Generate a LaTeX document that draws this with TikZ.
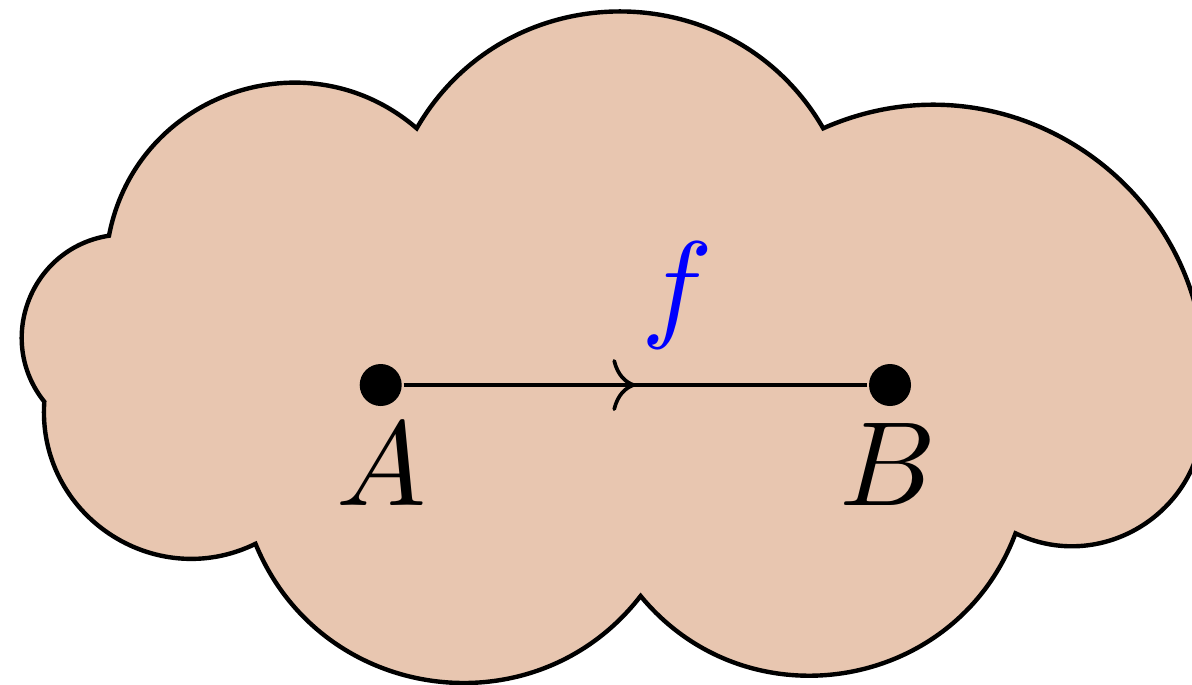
\documentclass[tikz,border=0pt]{standalone}
\usetikzlibrary{arrows.meta,decorations.markings}
\definecolor{cloudfill}{RGB}{232,198,176}
\definecolor{labelblue}{RGB}{0,0,255}
\begin{document}
\begin{tikzpicture}[x=0.1pt,y=0.1pt,
  puff/.style={bend left=60, looseness=1.135},
  cloudline/.style={draw=black, line width=0.44pt, fill=cloudfill, line join=miter},
  dot/.style={circle, fill=black, inner sep=0pt, minimum size=4.2pt},
  lbl/.style={scale=1.2, inner sep=0pt, anchor=base},
  conn/.style={line width=0.37pt,
    decoration={markings, mark=at position 0.5 with {\arrow{Computer Modern Rightarrow[length=2.3pt,width=5.2pt]}}},
    postaction={decorate}}]
\useasboundingbox (0,0) rectangle (1192,684);
% cloud cusps
\coordinate (c1) at (416.7,555.7);
\coordinate (c2) at (823.2,555.7);
\coordinate (c3) at (1202.8,278.9);
\coordinate (c4) at (1015.5,150.7);
\coordinate (c5) at (640.6,88);
\coordinate (c6) at (255.5,140.2);
\coordinate (c7) at (44.3,282.3);
\coordinate (c8) at (109,448.3);
\draw[cloudline] (c1) to[puff] (c2) to[puff] (c3) to[puff] (c4) to[puff] (c5)
  to[puff] (c6) to[puff] (c7) to[puff] (c8) to[puff] (c1) -- cycle;
% points
\node[dot] (A) at (380.7,299) {};
\node[dot] (B) at (890,299) {};
\node[lbl] (Alab) at (381,179) {$A$};
\node[lbl] (Blab) at (888,179) {$B$};
\draw[conn] (A) -- node[lbl, xshift=3.5pt, yshift=5.0pt, text=labelblue] (flab) {$f$} (B);
\end{tikzpicture}
\end{document}
